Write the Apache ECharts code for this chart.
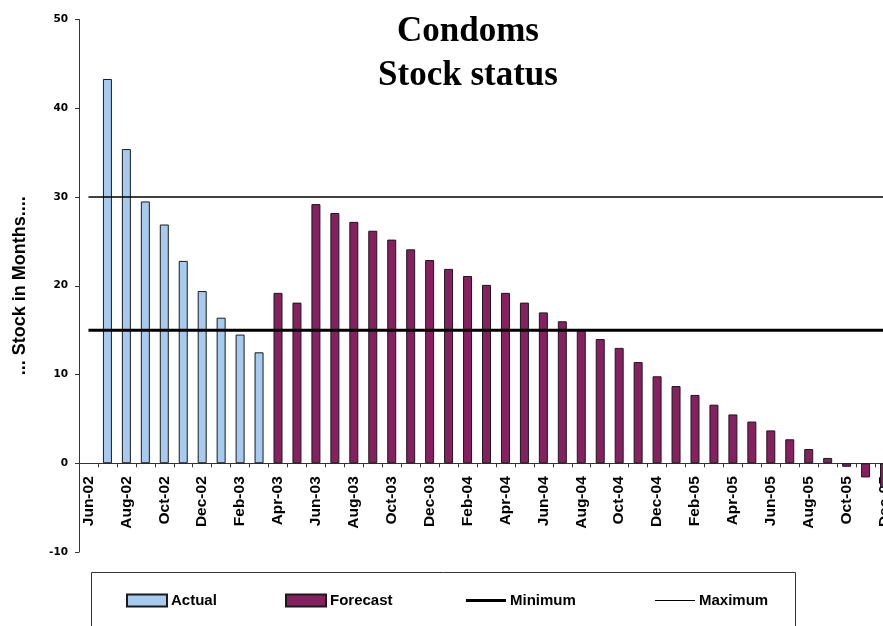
<!DOCTYPE html>
<html>
<head>
<meta charset="utf-8">
<script src="https://cdn.jsdelivr.net/npm/echarts@6/dist/echarts.min.js"></script>
<style>
  html, body { margin: 0; padding: 0; background: #ffffff; }
  #chart { width: 883px; height: 626px; }
</style>
</head>
<body>
<div id="chart"></div>
<script>
// Months on the category axis (Jun-02 .. Dec-05)
const months = [
  'Jun-02', 'Jul-02', 'Aug-02', 'Sep-02', 'Oct-02', 'Nov-02', 'Dec-02',
  'Jan-03', 'Feb-03', 'Mar-03', 'Apr-03', 'May-03', 'Jun-03', 'Jul-03',
  'Aug-03', 'Sep-03', 'Oct-03', 'Nov-03', 'Dec-03', 'Jan-04', 'Feb-04',
  'Mar-04', 'Apr-04', 'May-04', 'Jun-04', 'Jul-04', 'Aug-04', 'Sep-04',
  'Oct-04', 'Nov-04', 'Dec-04', 'Jan-05', 'Feb-05', 'Mar-05', 'Apr-05',
  'May-05', 'Jun-05', 'Jul-05', 'Aug-05', 'Sep-05', 'Oct-05', 'Nov-05',
  'Dec-05'
];

// Stock in months, recorded
const actual = [
  null, 43.3, 35.4, 29.5, 26.9, 22.8, 19.4, 16.4, 14.5, 12.5,
  null, null, null, null, null, null, null, null, null, null, null,
  null, null, null, null, null, null, null, null, null, null, null,
  null, null, null, null, null, null, null, null, null, null, null
];

// Stock in months, projected
const forecast = [
  null, null, null, null, null, null, null, null, null, null,
  19.2, 18.1, 29.2, 28.2, 27.2, 26.2, 25.2, 24.1, 22.9, 21.9, 21.1,
  20.1, 19.2, 18.1, 17.0, 16.0, 15.0, 14.0, 13.0, 11.4, 9.8, 8.7,
  7.7, 6.6, 5.5, 4.7, 3.7, 2.7, 1.6, 0.6, -0.4, -1.6, -2.7
];

// Minimum and maximum stock levels, drawn across the whole period
const minimumLine = [['Jun-02', 15], ['Dec-05', 15]];
const maximumLine = [['Jun-02', 30], ['Dec-05', 30]];

const yTicks = { min: -10, max: 50, step: 10 };

const chart = echarts.init(document.getElementById('chart'), null, { renderer: 'canvas' });

// Plot area: the last month runs past the right edge of the canvas
const plot = { left: 79, top: 19.5, width: 815, height: 532.5 };
const zeroOffset = -plot.height * (0 - yTicks.min) / (yTicks.max - yTicks.min);

const barBorder = { borderColor: '#1a1a1a', borderWidth: 1 };
const legendFont = {
  fontFamily: '"Liberation Sans Narrow", "Arial Narrow", "Liberation Sans", Arial, sans-serif',
  fontWeight: 'bold',
  fontSize: 15,
  color: '#000000'
};
const legendBase = {
  top: 593,
  itemWidth: 40,
  itemHeight: 12,
  padding: 0,
  selectedMode: false,
  z: 5,
  textStyle: Object.assign({ padding: [0, 0, 0, -1] }, legendFont)
};

chart.setOption({
  animation: false,
  backgroundColor: '#ffffff',
  grid: {
    left: plot.left, top: plot.top, width: plot.width, height: plot.height,
    containLabel: false,
    outerBoundsMode: 'none'
  },
  graphic: [
    {
      type: 'text',
      x: 468,
      y: 54,
      style: {
        text: 'Condoms\nStock status',
        fontFamily: '"Liberation Serif", "Times New Roman", serif',
        fontWeight: 'bold',
        fontSize: 35,
        lineHeight: 44,
        fill: '#000000',
        align: 'center',
        verticalAlign: 'middle'
      },
      z: 10
    },
    {
      type: 'rect',
      shape: { x: 91.5, y: 572.5, width: 704, height: 70 },
      style: { fill: '#ffffff', stroke: '#333333', lineWidth: 1 },
      z: 0
    }
  ],
  legend: [
    Object.assign({ left: 126, data: [{ name: 'Actual', icon: 'rect' }] }, legendBase),
    Object.assign({ left: 285, data: [{ name: 'Forecast', icon: 'rect' }] }, legendBase),
    Object.assign({ left: 466, data: [{ name: 'Minimum', icon: 'path://M0,0H40V3H0Z', itemStyle: { color: '#000000' } }] }, legendBase),
    Object.assign({ left: 655, data: [{ name: 'Maximum', icon: 'path://M0,0H40V1.2H0Z', itemStyle: { color: '#000000' } }] }, legendBase)
  ],
  xAxis: {
    type: 'category',
    data: months,
    boundaryGap: true,
    offset: zeroOffset,
    axisLine: { onZero: false, lineStyle: { color: '#333333', width: 1 } },
    axisTick: { show: true, interval: 0, length: 4, lineStyle: { color: '#333333' } },
    axisLabel: {
      interval: 1,
      rotate: 90,
      margin: 13,
      color: '#000000',
      fontFamily: '"Liberation Sans", Arial, sans-serif',
      fontWeight: 'bold',
      fontSize: 15.5
    },
    splitLine: { show: false }
  },
  yAxis: {
    type: 'value',
    min: yTicks.min,
    max: yTicks.max,
    interval: yTicks.step,
    name: '... Stock in Months....',
    nameLocation: 'middle',
    nameRotate: 90,
    nameGap: 50,
    nameTextStyle: {
      fontFamily: '"Liberation Sans", Arial, sans-serif',
      fontWeight: 'bold',
      fontSize: 18,
      color: '#000000'
    },
    axisLine: { show: true, lineStyle: { color: '#333333', width: 1 } },
    axisTick: { show: true, length: 4, lineStyle: { color: '#333333' } },
    axisLabel: {
      margin: 11,
      color: '#000000',
      fontFamily: '"DejaVu Sans", Verdana, sans-serif',
      fontWeight: 'bold',
      fontSize: 10.5
    },
    splitLine: { show: false }
  },
  series: [
    {
      name: 'Actual',
      type: 'bar',
      data: actual,
      barWidth: 9,
      barGap: '-100%',
      itemStyle: Object.assign({ color: '#a6caf0' }, barBorder),
      z: 2
    },
    {
      name: 'Forecast',
      type: 'bar',
      data: forecast,
      barWidth: 9,
      barGap: '-100%',
      itemStyle: Object.assign({ color: '#862060' }, barBorder),
      z: 2
    },
    {
      name: 'Minimum',
      type: 'line',
      data: minimumLine,
      symbol: 'none',
      itemStyle: { color: '#000000' },
      lineStyle: { color: '#000000', width: 3 },
      z: 3
    },
    {
      name: 'Maximum',
      type: 'line',
      data: maximumLine,
      symbol: 'none',
      itemStyle: { color: '#000000' },
      lineStyle: { color: '#000000', width: 1.3 },
      z: 3
    }
  ]
});
</script>
</body>
</html>
